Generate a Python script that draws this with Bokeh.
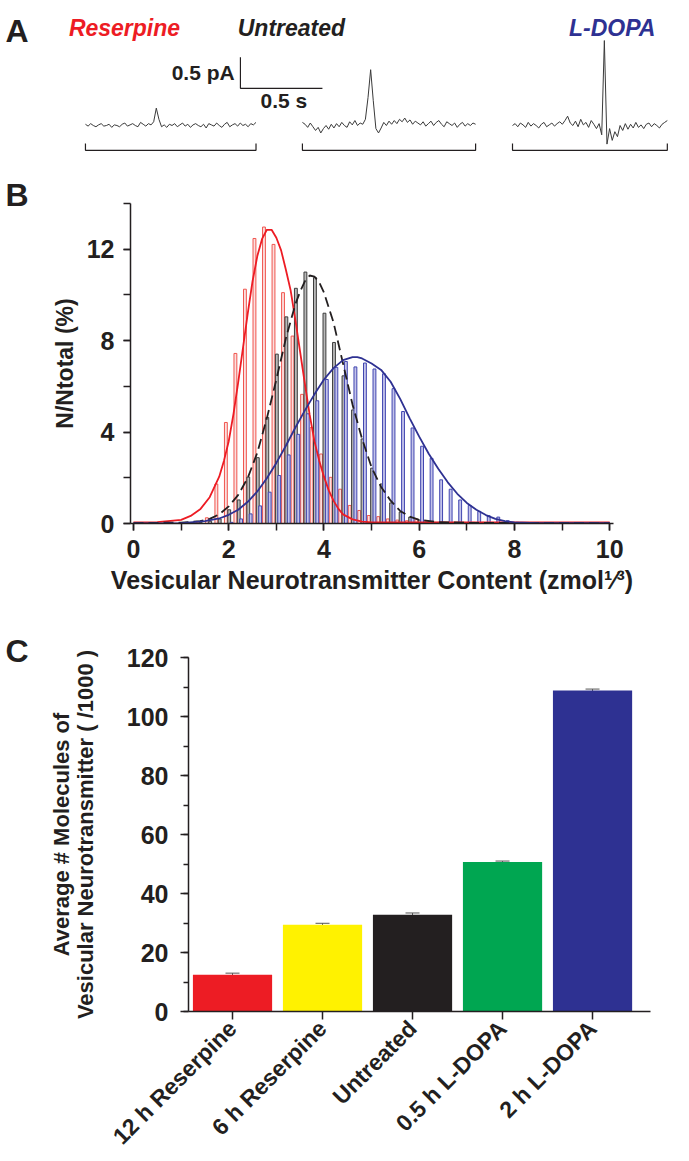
from math import pi
from bokeh.plotting import figure
from bokeh.layouts import column
from bokeh.models import (LinearAxis, FixedTicker, SingleIntervalTicker, Range1d,
                          ColumnDataSource, Whisker)
from bokeh.core.properties import value
from bokeh.embed import file_html
from bokeh.resources import INLINE

FONT = "Liberation Sans"
INK = "#231f20"
RED = "#ed1c24"
BLUE = "#2e3192"

# ---------------- Panel A data: amperometric traces (pA) ----------------
trace_names = ["Reserpine", "Untreated", "L-DOPA"]
trace_colors = [RED, INK, BLUE]
reserpine_pA = [0.02, -0.01, 0.03, 0.00, -0.02, 0.01, 0.03, -0.01, 0.00, 0.02, -0.03, 0.01, 0.00,
                -0.02, 0.02, 0.04, -0.01, 0.01, 0.03, 0.00, -0.02, 0.05, 0.02, -0.01, 0.03, 0.01,
                0.06, 0.28, 0.10, -0.02, 0.01, -0.03, 0.02, 0.00, 0.03, -0.02, 0.01, 0.04, -0.01,
                0.02, -0.03, 0.01, 0.03, 0.00, -0.02, 0.02, -0.04, 0.03, 0.01, -0.01, 0.04, 0.00,
                -0.03, 0.02, 0.05, -0.02, 0.01, 0.03, -0.01, 0.04, 0.00, 0.02, -0.02, 0.03, 0.01, 0.05]
untreated_pA = [0.05, 0.02, -0.03, 0.04, -0.02, -0.08, -0.03, -0.12, -0.05, 0.00, -0.06, 0.02, -0.04,
                0.03, -0.02, 0.05, 0.00, -0.03, 0.06, 0.01, 0.08, 0.00, 0.04, 0.02, 0.10, 0.45, 0.90,
                0.40, -0.05, -0.12, -0.04, 0.05, 0.00, 0.07, 0.02, 0.08, 0.03, 0.10, 0.06, 0.12, 0.05,
                0.09, 0.02, 0.07, 0.04, 0.01, 0.06, -0.01, 0.03, 0.07, 0.00, 0.05, 0.08, 0.02, -0.02,
                0.06, 0.03, 0.00, 0.04, -0.03, 0.02, 0.05, -0.01, 0.03, 0.00, 0.04, 0.02]
ldopa_pA = [0.00, 0.03, -0.02, 0.04, 0.01, -0.03, 0.05, -0.01, 0.03, 0.00, -0.04, 0.02, 0.05, -0.02,
            0.01, 0.04, -0.01, 0.03, 0.06, 0.02, 0.08, 0.15, 0.04, 0.00, 0.07, -0.02, 0.10, 0.01,
            0.05, -0.03, 0.08, 0.02, -0.05, 0.03, -0.15, 1.37, -0.30, -0.05, -0.24, -0.10, -0.18,
            0.00, -0.08, 0.03, -0.06, 0.02, -0.04, 0.05, -0.03, 0.01, -0.05, 0.02, 0.04, -0.02,
            0.03, 0.00, -0.04, 0.02, 0.05, 0.08]
sample_dt_s = 0.016
scale_bar_pA = 0.5
scale_bar_s = 0.5

# ---------------- Panel B data: histograms (%), bin starts (zmol^1/3) ----------------
bin_start = [0.0, 0.2, 0.4, 0.6, 0.8, 1.0, 1.2, 1.4, 1.6, 1.8, 2.0, 2.2, 2.4, 2.6, 2.8, 3.0, 3.2,
             3.4, 3.6, 3.8, 4.0, 4.2, 4.4, 4.6, 4.8, 5.0, 5.2, 5.4, 5.6, 5.8, 6.0, 6.2, 6.4, 6.6,
             6.8, 7.0, 7.2, 7.4, 7.6, 7.8, 8.0, 8.2, 8.4, 8.6, 8.8, 9.0, 9.2, 9.4, 9.6, 9.8]
reserpine_pct = [0, 0, 0, 0, 0, 0, 0.05, 0.25, 1.73, 4.42, 7.44, 10.25, 12.47, 12.97, 12.21, 10.1,
                 8.2, 5.65, 4.2, 3.04, 2.02, 1.5, 0.79, 0.57, 0.35, 0.3, 0.2, 0.15, 0.12, 0.2, 0.08,
                 0.05, 0.05, 0.05, 0.05, 0.05, 0.05, 0.05, 0.05, 0.05, 0, 0, 0, 0, 0, 0, 0, 0, 0, 0]
untreated_pct = [0, 0, 0, 0, 0, 0.02, 0.05, 0.1, 0.2, 0.6, 1.03, 2.03, 2.88, 4.64, 7.41, 9.04, 10.29,
                 11.0, 10.76, 9.2, 7.92, 6.46, 4.97, 3.7, 2.42, 1.73, 0.9, 0.5, 0.28, 0.15, 0.08,
                 0.05, 0.03, 0, 0, 0, 0, 0, 0, 0, 0, 0, 0, 0, 0, 0, 0, 0, 0, 0]
ldopa_pct = [0, 0, 0, 0, 0, 0, 0, 0, 0, 0.05, 0.2, 0.42, 0.77, 1.37, 2.1, 3.0, 3.9, 4.8, 5.37, 6.3,
             6.83, 7.09, 6.85, 7.02, 6.76, 6.55, 5.9, 4.9, 4.18, 3.38, 2.85, 1.91, 1.5, 1.03, 0.79,
             0.53, 0.34, 0.28, 0.12, 0.05, 0.03, 0, 0, 0, 0, 0, 0, 0, 0, 0]

reserpine_fit_x = [0, 0.5, 1.0, 1.2, 1.4, 1.6, 1.8, 1.9, 2.0, 2.1, 2.2, 2.3, 2.4, 2.5, 2.6, 2.7, 2.8,
                   2.9, 3.0, 3.1, 3.2, 3.3, 3.4, 3.5, 3.6, 3.7, 3.8, 3.9, 4.0, 4.1, 4.2, 4.3, 4.4,
                   4.6, 4.8, 5.0, 6.0, 8.0, 10.0]
reserpine_fit_y = [0.05, 0.06, 0.16, 0.33, 0.62, 1.15, 2.05, 2.75, 3.6, 4.8, 6.2, 7.7, 9.2, 10.6,
                   11.7, 12.45, 12.85, 12.85, 12.5, 11.95, 11.1, 10.2, 8.9, 7.5, 6.1, 4.75, 3.6,
                   2.75, 2.05, 1.45, 1.0, 0.65, 0.4, 0.18, 0.08, 0.05, 0.05, 0.05, 0.05]
untreated_fit_x = [0, 1.0, 1.4, 1.6, 1.8, 2.0, 2.2, 2.4, 2.6, 2.8, 3.0, 3.2, 3.4, 3.5, 3.6, 3.7, 3.8,
                   3.9, 4.0, 4.2, 4.4, 4.6, 4.8, 5.0, 5.2, 5.4, 5.6, 5.8, 6.0, 6.4, 7.0, 10.0]
untreated_fit_y = [0.02, 0.04, 0.1, 0.2, 0.4, 0.75, 1.25, 2.0, 3.1, 4.6, 6.3, 8.1, 9.6, 10.15, 10.6,
                   10.85, 10.8, 10.55, 10.1, 8.8, 7.0, 5.2, 3.7, 2.45, 1.6, 1.0, 0.55, 0.3, 0.16,
                   0.06, 0.03, 0.02]
ldopa_fit_x = [0, 1.0, 1.5, 1.8, 2.0, 2.2, 2.4, 2.6, 2.8, 3.0, 3.2, 3.4, 3.6, 3.8, 4.0, 4.2, 4.4,
               4.6, 4.7, 4.8, 5.0, 5.2, 5.4, 5.6, 5.8, 6.0, 6.2, 6.4, 6.6, 6.8, 7.0, 7.2, 7.4, 7.6,
               7.8, 8.0, 8.5, 10.0]
ldopa_fit_y = [0.0, 0.02, 0.1, 0.22, 0.38, 0.6, 0.95, 1.4, 1.98, 2.65, 3.4, 4.2, 4.95, 5.65, 6.3,
               6.8, 7.15, 7.28, 7.28, 7.22, 7.0, 6.72, 6.2, 5.45, 4.6, 3.8, 3.05, 2.4, 1.8, 1.3,
               0.9, 0.6, 0.37, 0.2, 0.1, 0.05, 0.02, 0.02]

# ---------------- Panel C data ----------------
conditions = ["12 h Reserpine", "6 h Reserpine", "Untreated", "0.5 h L-DOPA", "2 h L-DOPA"]
molecules_k = [12.5, 29.4, 32.8, 50.7, 108.8]
molecules_err = [0.5, 0.5, 0.6, 0.3, 0.5]
bar_colors = ["#ed1c24", "#fff200", "#231f20", "#00a651", "#2e3192"]


def style_axis(ax, label_size="25px", tick_out=7, minor_out=7, standoff=9):
    ax.axis_line_color = INK
    ax.axis_line_width = 1.5
    ax.major_tick_line_color = INK
    ax.major_tick_line_width = 1.5
    ax.minor_tick_line_color = INK
    ax.minor_tick_line_width = 1.5
    ax.major_tick_in = 0
    ax.major_tick_out = tick_out
    ax.minor_tick_in = 0
    ax.minor_tick_out = minor_out
    ax.major_label_text_font = FONT
    ax.major_label_text_font_style = "bold"
    ax.major_label_text_font_size = label_size
    ax.major_label_text_color = INK
    ax.major_label_standoff = standoff
    ax.axis_label_text_font = FONT
    ax.axis_label_text_font_style = "bold"
    ax.axis_label_text_color = INK


def style_letter(p, offset, standoff):
    p.title.text_font = FONT
    p.title.text_font_style = "bold"
    p.title.text_font_size = "32px"
    p.title.text_color = INK
    p.title.align = "left"
    p.title.offset = offset
    p.title.standoff = standoff


W = 689

# ======================= Panel A =======================
PX_PER_S = 164.0
PX_PER_PA = 62.0
pa = figure(width=W, height=165, x_range=Range1d(0, W / PX_PER_S),
            y_range=Range1d(-40 / PX_PER_PA, 125 / PX_PER_PA),
            x_axis_type=None, y_axis_type=None, output_backend="svg",
            toolbar_location=None, min_border=0, outline_line_color=None)
pa.frame_align = False

traces = [reserpine_pA, untreated_pA, ldopa_pA]
trace_start_s = [0.518, 1.841, 3.122]
title_center_s = [0.756, 1.774, 3.73]
for name, color, vals, t0, tc in zip(trace_names, trace_colors, traces, trace_start_s,
                                     title_center_s):
    t = [t0 + i * sample_dt_s for i in range(len(vals))]
    pa.line(t, vals, line_color="#3a3a3a", line_width=1)
    t1 = t[-1]
    pa.line([t0, t0, t1, t1], [-0.29, -0.40, -0.40, -0.29], line_color=INK, line_width=1.2)
    pa.text(x=[tc], y=[1.58], text=[name], text_align="center", text_baseline="alphabetic",
            text_font=value(FONT), text_font_style="bold italic", text_font_size="23px",
            text_color=color)

sb_t, sb_y = 1.463, 0.60
pa.line([sb_t, sb_t, sb_t + scale_bar_s], [sb_y + scale_bar_pA, sb_y, sb_y], line_color=INK,
        line_width=1.2)
pa.text(x=[sb_t - 0.035], y=[sb_y + scale_bar_pA / 2], text=["%g pA" % scale_bar_pA],
        text_align="right", text_baseline="middle", text_font=value(FONT),
        text_font_style="bold", text_font_size="21px", text_color=INK)
pa.text(x=[sb_t + scale_bar_s * 0.53], y=[0.40], text=["%g s" % scale_bar_s],
        text_align="center", text_baseline="middle", text_font=value(FONT),
        text_font_style="bold", text_font_size="21px", text_color=INK)
pa.text(x=[0.03], y=[1.532], text=["A"], text_align="left", text_baseline="alphabetic",
        text_font=value(FONT), text_font_style="bold", text_font_size="32px", text_color=INK)

# ======================= Panel B =======================
pb = figure(width=W, height=440, x_range=Range1d(-0.063, 10.08), y_range=Range1d(0, 14),
            title="B", output_backend="svg", toolbar_location=None, min_border_left=130,
            min_border_right=76, min_border_top=38, min_border_bottom=82,
            outline_line_color=None)
pb.frame_align = False
style_letter(pb, -125, -19)
pb.grid.visible = False
style_axis(pb.xaxis[0])
style_axis(pb.yaxis[0])
pb.xaxis.ticker = SingleIntervalTicker(interval=2, num_minor_ticks=2)
pb.yaxis.ticker = SingleIntervalTicker(interval=4, num_minor_ticks=2)
pb.yaxis.axis_label = "N/Ntotal (%)"
pb.yaxis.axis_label_text_font_size = "23px"
pb.yaxis.axis_label_standoff = 6
pb.xaxis.axis_label = "Vesicular Neurotransmitter Content (zmol\u00b9\u2044\u00b3)"
pb.xaxis.axis_label_text_font_size = "25px"
pb.xaxis.axis_label_standoff = 5

series = [(reserpine_pct, 0.14, "#fbe0df", "#f0554f"),
          (untreated_pct, 0.21, "#b9b9b9", "#3c3c3c"),
          (ldopa_pct, 0.26, "#c3c3ea", "#4146b0")]
for vals, off, fill, line in series:
    xs = [b + off for b, v in zip(bin_start, vals) if v > 0]
    tops = [v for v in vals if v > 0]
    pb.vbar(x=xs, top=tops, width=0.06, bottom=0, fill_color=fill, line_color=line,
            line_width=1)

pb.line(reserpine_fit_x, reserpine_fit_y, line_color=RED, line_width=1.8)
pb.line(untreated_fit_x, untreated_fit_y, line_color=INK, line_width=1.8, line_dash="10 5")
pb.line(ldopa_fit_x, ldopa_fit_y, line_color=BLUE, line_width=1.8)

# ======================= Panel C =======================
pc = figure(width=W, height=556, x_range=Range1d(-0.489, 4.644), y_range=Range1d(0, 120),
            title="C", output_backend="svg", toolbar_location=None, min_border_left=188,
            min_border_right=39, min_border_top=52, min_border_bottom=149,
            outline_line_color=None)
pc.frame_align = False
style_letter(pc, -183, -22)
pc.grid.visible = False
style_axis(pc.xaxis[0], label_size="23px", tick_out=8, standoff=5)
style_axis(pc.yaxis[0], label_size="25px", tick_out=8, minor_out=5, standoff=12)
pc.yaxis.ticker = SingleIntervalTicker(interval=20, num_minor_ticks=2)
xpos = list(range(len(conditions)))
pc.xaxis.ticker = FixedTicker(ticks=xpos)
pc.xaxis.major_label_overrides = {i: c for i, c in zip(xpos, conditions)}
pc.xaxis.major_label_orientation = pi / 4
pc.yaxis.axis_label = "Vesicular Neurotransmitter ( /1000 )"
pc.yaxis.axis_label_text_font_size = "22px"
pc.yaxis.axis_label_standoff = 26

ax2 = LinearAxis(ticker=FixedTicker(ticks=[]), axis_label="Average # Molecules of")
style_axis(ax2, tick_out=0, minor_out=0, standoff=0)
ax2.axis_line_color = None
ax2.major_tick_line_color = None
ax2.minor_tick_line_color = None
ax2.axis_label_text_font_size = "22px"
ax2.axis_label_standoff = -4
pc.add_layout(ax2, "left")

src = ColumnDataSource(dict(x=xpos, top=molecules_k, color=bar_colors,
                            upper=[v + e for v, e in zip(molecules_k, molecules_err)],
                            lower=[v - e for v, e in zip(molecules_k, molecules_err)]))
pc.vbar(x="x", top="top", width=0.88, bottom=0, fill_color="color", line_color=None, source=src)
wh = Whisker(source=src, base="x", upper="upper", lower="lower", line_color="#555555",
             line_width=1)
wh.upper_head.size = 14
wh.lower_head.size = 14
wh.upper_head.line_color = "#555555"
wh.lower_head.line_color = "#555555"
pc.add_layout(wh)

layout = column(pa, pb, pc)
open("out.html", "w").write(file_html(layout, INLINE, "Vesicular content"))
